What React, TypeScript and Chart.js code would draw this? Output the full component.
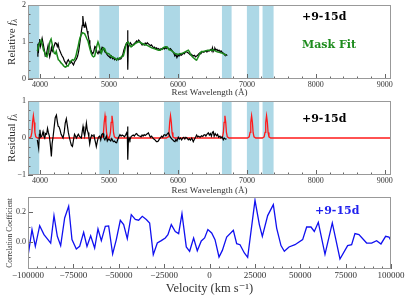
import React, { useEffect, useRef } from 'react';
import { Chart, registerables } from 'chart.js';
Chart.register(...registerables);

// ---------- data ----------
const specWave = [3960,3968,3975,3985,3995,4005,4015,4030,4043,4060,4075,4092,4105,4116,4128,4140,4152,4165,4178,4190,4205,4220,4237,4250,4262,4275,4290,4305,4320,4335,4350,4365,4381,4395,4410,4425,4440,4455,4470,4485,4500,4515,4530,4545,4560,4575,4590,4600,4612,4620,4628,4640,4650,4660,4670,4682,4695,4710,4722,4735,4750,4765,4780,4795,4810,4825,4840,4855,4870,4885,4900,4915,4930,4945,4960,4975,4990,5005,5020,5035,5050,5065,5080,5095,5110,5125,5140,5155,5170,5185,5200,5215,5232,5248,5258,5266,5270,5274,5280,5295,5310,5325,5340,5352,5368,5385,5400,5415,5430,5449,5465,5480,5495,5510,5525,5540,5555,5570,5585,5600,5615,5630,5645,5660,5675,5690,5705,5720,5739,5755,5770,5785,5800,5815,5830,5845,5860,5875,5890,5908,5925,5940,5955,5970,5985,6000,6015,6030,6045,6060,6075,6090,6105,6120,6135,6150,6165,6180,6195,6210,6225,6240,6255,6271,6285,6300,6315,6330,6345,6360,6375,6390,6405,6420,6435,6450,6464,6478,6490,6500,6510,6525,6536,6550,6565,6580,6595,6610,6625,6640,6655,6670,6681,6700,6715];
const specFlux = [0.62,0.95,0.70,0.98,1.08,0.88,0.95,1.10,0.98,0.80,0.62,0.65,0.80,0.90,0.72,0.60,0.70,0.85,0.75,0.80,0.90,0.98,0.96,0.88,0.95,0.82,0.75,0.68,0.62,0.58,0.50,0.45,0.40,0.48,0.52,0.46,0.43,0.48,0.42,0.38,0.46,0.50,0.55,0.62,0.75,0.95,1.15,1.30,1.45,1.70,1.55,1.40,1.42,1.50,1.42,1.30,1.20,1.05,0.92,0.80,0.72,0.68,0.75,0.88,0.85,0.72,0.68,0.75,0.70,0.78,0.86,0.84,0.78,0.72,0.70,0.65,0.62,0.60,0.57,0.62,0.55,0.58,0.52,0.55,0.51,0.56,0.52,0.55,0.54,0.58,0.66,0.78,0.87,0.95,1.00,0.90,1.32,0.25,0.85,0.92,0.98,0.94,0.90,0.93,0.96,0.99,1.03,1.00,1.05,1.01,0.96,0.92,0.95,0.92,0.97,0.94,0.98,0.95,0.93,0.90,0.92,0.88,0.84,0.86,0.82,0.84,0.80,0.82,0.78,0.82,0.80,0.84,0.81,0.85,0.82,0.86,0.83,0.80,0.82,0.78,0.74,0.70,0.62,0.66,0.58,0.64,0.62,0.68,0.64,0.66,0.70,0.68,0.72,0.74,0.72,0.70,0.68,0.65,0.67,0.64,0.62,0.64,0.60,0.62,0.64,0.68,0.70,0.68,0.72,0.74,0.72,0.74,0.76,0.73,0.77,0.75,0.78,0.80,0.76,0.84,0.74,0.80,0.83,0.78,0.80,0.76,0.78,0.74,0.76,0.72,0.70,0.68,0.65,0.66,0.63];

const fitWave = [3960,3975,3990,4005,4019,4035,4050,4068,4085,4100,4115,4130,4145,4160,4175,4190,4205,4220,4235,4250,4265,4280,4295,4310,4325,4340,4357,4372,4390,4406,4420,4437,4454,4470,4485,4502,4520,4535,4551,4565,4580,4599,4615,4632,4647,4665,4680,4696,4712,4728,4744,4760,4776,4792,4808,4824,4840,4855,4872,4889,4905,4920,4937,4952,4970,4985,5000,5017,5034,5050,5070,5090,5111,5130,5150,5170,5190,5208,5225,5245,5262,5280,5300,5320,5340,5360,5380,5400,5420,5440,5460,5480,5500,5520,5540,5560,5580,5600,5620,5640,5660,5680,5700,5720,5740,5760,5780,5800,5820,5836,5855,5870,5890,5910,5930,5950,5970,5990,6010,6030,6050,6070,6090,6110,6130,6150,6165,6180,6200,6220,6240,6260,6271,6285,6300,6320,6340,6360,6380,6400,6420,6440,6460,6480,6500,6520,6540,6560,6580,6600,6620,6640,6660,6681,6700];
const fitFlux = [0.75,0.87,0.95,1.00,1.05,0.90,0.78,0.72,0.62,0.60,0.72,0.88,1.02,1.08,0.95,0.80,0.70,0.68,0.75,0.62,0.52,0.50,0.46,0.42,0.40,0.36,0.33,0.32,0.36,0.35,0.40,0.46,0.50,0.52,0.50,0.54,0.62,0.75,0.87,1.00,1.12,1.20,1.25,1.24,1.22,1.15,1.08,1.02,0.90,0.78,0.68,0.62,0.60,0.62,0.75,0.90,1.00,0.92,0.78,0.70,0.78,0.84,0.82,0.74,0.70,0.69,0.68,0.64,0.60,0.60,0.58,0.56,0.52,0.54,0.57,0.58,0.62,0.62,0.75,0.92,0.98,1.00,0.92,0.87,0.90,0.92,0.96,0.98,1.00,1.00,0.98,0.96,0.94,0.92,0.92,0.90,0.88,0.86,0.84,0.83,0.82,0.80,0.79,0.78,0.78,0.80,0.83,0.86,0.87,0.87,0.83,0.79,0.78,0.76,0.73,0.70,0.68,0.67,0.67,0.68,0.69,0.70,0.72,0.74,0.76,0.78,0.74,0.68,0.62,0.58,0.55,0.52,0.51,0.56,0.62,0.70,0.74,0.74,0.75,0.76,0.77,0.78,0.78,0.78,0.79,0.78,0.76,0.74,0.73,0.72,0.71,0.70,0.68,0.66,0.65];

const resWave = [3960,3970,3980,3990,3998,4010,4025,4043,4055,4068,4080,4095,4108,4120,4135,4150,4164,4175,4190,4205,4220,4237,4250,4262,4275,4290,4305,4320,4333,4350,4365,4381,4395,4410,4425,4440,4455,4470,4485,4500,4515,4527,4540,4555,4570,4585,4599,4612,4623,4635,4647,4660,4672,4684,4696,4708,4720,4735,4750,4768,4782,4795,4808,4816,4830,4845,4865,4880,4895,4913,4925,4940,4961,4975,4990,5010,5025,5040,5062,5080,5095,5111,5125,5140,5159,5175,5190,5208,5225,5240,5256,5266,5270,5274,5280,5292,5304,5320,5335,5352,5368,5385,5401,5415,5430,5449,5465,5480,5495,5510,5525,5546,5560,5570,5585,5600,5618,5635,5650,5667,5680,5695,5715,5730,5745,5763,5780,5795,5811,5825,5840,5860,5875,5890,5908,5925,5940,5957,5970,5985,6005,6020,6035,6053,6070,6085,6100,6115,6130,6150,6165,6180,6200,6222,6240,6255,6271,6285,6300,6320,6343,6360,6375,6391,6405,6420,6440,6455,6470,6485,6500,6512,6525,6540,6560,6575,6590,6609,6625,6640,6657,6670,6690,6705];
const resFlux = [-0.05,-0.05,-0.28,0.10,0.22,0.02,0.05,0.17,0.05,0.00,0.12,0.10,0.26,0.15,0.05,-0.20,-0.50,-0.15,0.05,0.30,0.55,0.62,0.45,0.32,0.30,0.22,0.10,0.05,0.00,0.15,0.40,0.52,0.35,0.15,0.02,-0.10,-0.20,-0.23,-0.05,0.10,0.05,0.00,0.05,0.10,0.05,0.02,0.00,0.18,0.31,0.15,0.05,0.22,0.40,0.22,0.15,0.02,-0.16,0.00,0.08,0.05,0.10,-0.05,-0.15,-0.23,-0.10,0.02,0.05,-0.05,0.10,0.12,0.00,-0.05,0.05,-0.08,-0.03,-0.05,-0.08,-0.02,-0.10,-0.08,-0.12,-0.13,-0.05,0.02,0.09,0.05,0.08,0.06,0.03,0.08,0.14,0.05,0.31,-0.59,-0.12,0.00,-0.05,0.04,0.06,0.08,0.05,0.10,0.12,0.08,0.06,0.05,0.03,0.08,0.05,0.09,0.07,0.10,0.12,0.14,0.08,0.02,0.05,0.00,-0.03,-0.05,-0.08,-0.10,-0.08,-0.03,0.00,0.05,0.02,0.08,0.09,0.06,0.10,0.14,0.08,0.02,-0.02,-0.05,-0.08,-0.10,-0.04,-0.08,0.02,-0.03,0.00,-0.05,0.00,0.02,-0.03,0.02,0.00,-0.05,-0.02,-0.06,0.00,-0.10,-0.03,0.02,0.08,0.03,0.05,0.02,0.06,0.04,0.08,0.09,0.05,0.10,0.14,0.08,0.12,0.05,0.15,0.17,0.05,0.12,0.06,0.10,0.02,0.05,0.00,0.03,-0.05,0.00,-0.03,-0.02];

// emission-line model in the residual panel: line centres and the sampled line profile
const lineCentres = [3903, 4942, 5043, 5892, 6681, 7068, 7285];
const profileOffset = [-60, -35, -22, -12, 0, 12, 22, 35, 60];
const profileValue = [0, 0.03, 0.15, 0.42, 0.6, 0.42, 0.15, 0.03, 0];
const modelRange = [3825, 9090];

const velocity = [-100000,-97800,-95960,-93570,-91190,-89000,-87500,-85680,-83840,-82000,-79800,-77600,-75770,-73380,-71540,-69340,-67500,-65480,-63280,-61440,-59600,-57400,-55570,-53360,-51350,-49140,-47300,-45300,-43100,-40880,-39040,-37030,-34820,-32980,-30970,-28760,-26560,-24360,-22900,-21050,-18850,-17000,-15170,-12790,-10950,-8750,-6730,-4530,-2690,-900,1200,3040,5240,7080,9460,13140,14970,16810,19200,21030,25070,27460,29110,32050,35170,37000,39390,41230,43800,47100,51320,53530,55910,57750,59950,63630,67660,71890,76110,78310,80150,82350,86570,89330,92080,94470,97040,98880,100000];
const correlation = [-0.095,0.083,-0.029,0.109,0.049,0.016,-0.007,0.176,0.038,-0.024,0.16,0.238,0.016,-0.047,-0.029,0.065,-0.029,0.042,-0.04,0.087,0.009,0.105,0.107,-0.08,0.016,0.145,0.116,0.022,0.182,0.15,0.145,0.171,0.15,0.127,-0.084,-0.007,0.009,0.027,0.049,0.116,0.07,0.056,0.189,-0.033,-0.062,0.027,-0.058,0.007,0.027,0.083,0.06,0.016,-0.1,-0.056,0.033,0.078,-0.011,-0.018,-0.073,-0.102,0.278,0.116,0.038,0.176,0.249,0.093,-0.024,-0.062,-0.033,-0.018,0.016,0.1,0.1,0.07,0.131,-0.082,0.127,-0.113,-0.024,-0.018,0.056,0.049,-0.007,-0.007,0.009,-0.013,0.038,0.033,0.009];

const maskBands: [number, number][] = [[3790, 3988], [4860, 5145], [5797, 6029], [6638, 6778], [7000, 7178], [7227, 7387]];

const waveTicks = [4000, 5000, 6000, 7000, 8000, 9000];
const relTicks = [0, 1, 2];
const resTicks = [-1, 0, 1];
const velTicks = [-100000, -75000, -50000, -25000, 0, 25000, 50000, 75000, 100000];
const corrTicks = [0, 0.2];

const phaseLabel = '+9-15d';

// ---------- helpers ----------
const SERIF = "'Liberation Serif', 'DejaVu Serif', serif";
const BOLD = "'DejaVu Serif', serif";
const TXT = '#333';

const pts = (xs: number[], ys: number[]) => xs.map((x, i) => ({ x, y: ys[i] }));
const minus = (v: number) => (v < 0 ? '\u2212' + Math.abs(v) : String(v));

function modelPoints() {
  const out: { x: number; y: number }[] = [{ x: modelRange[0], y: 0 }];
  lineCentres.forEach((c) => profileOffset.forEach((o, i) => out.push({ x: c + o, y: profileValue[i] })));
  out.push({ x: modelRange[1], y: 0 });
  return out;
}

type Part = { t: string; f: string; dy?: number };
type Txt = { t: string; x: number; y: number; font: string; color: string };
type Deco = {
  bands?: [number, number][];
  xMinor: number; xMajor: number; yMinor: number; yMajor: number;
  yTitle: Part[]; yTitleX: number;
  texts: Txt[];
};

function decor(o: Deco) {
  return {
    id: 'decor',
    beforeDatasetsDraw(chart: any) {
      const { ctx, chartArea: a, scales } = chart;
      if (!o.bands) return;
      ctx.save();
      ctx.beginPath();
      ctx.rect(a.left, a.top, a.right - a.left, a.bottom - a.top);
      ctx.clip();
      ctx.fillStyle = '#add8e6';
      for (const [b0, b1] of o.bands) {
        const p0 = scales.x.getPixelForValue(b0);
        const p1 = scales.x.getPixelForValue(b1);
        ctx.fillRect(p0, a.top, p1 - p0, a.bottom - a.top);
      }
      ctx.restore();
    },
    afterDatasetsDraw(chart: any) {
      const { ctx, chartArea: a, scales } = chart;
      ctx.save();
      ctx.strokeStyle = '#666';
      ctx.lineWidth = 1;
      const isMaj = (v: number, m: number) => Math.abs(v / m - Math.round(v / m)) < 1e-6;
      const xs = scales.x;
      for (let v = Math.ceil(xs.min / o.xMinor) * o.xMinor; v <= xs.max + 1e-9; v += o.xMinor) {
        const p = Math.round(xs.getPixelForValue(v)) + 0.5;
        const len = isMaj(v, o.xMajor) ? 5 : 2.5;
        ctx.beginPath();
        ctx.moveTo(p, a.bottom);
        ctx.lineTo(p, a.bottom - len);
        ctx.stroke();
      }
      const ys = scales.y;
      for (let k = Math.ceil(ys.min / o.yMinor - 1e-9); k * o.yMinor <= ys.max + 1e-9; k++) {
        const v = k * o.yMinor;
        const p = Math.round(ys.getPixelForValue(v)) + 0.5;
        const len = isMaj(v, o.yMajor) ? 5 : 2.5;
        ctx.beginPath();
        ctx.moveTo(a.left, p);
        ctx.lineTo(a.left + len, p);
        ctx.stroke();
      }
      ctx.strokeStyle = '#999';
      ctx.strokeRect(Math.round(a.left) + 0.5, Math.round(a.top) + 0.5, Math.round(a.right - a.left) - 1, Math.round(a.bottom - a.top) - 1);
      ctx.restore();
    },
    afterDraw(chart: any) {
      const { ctx, chartArea: a } = chart;
      ctx.save();
      ctx.translate(o.yTitleX, (a.top + a.bottom) / 2);
      ctx.rotate(-Math.PI / 2);
      let total = 0;
      for (const p of o.yTitle) { ctx.font = p.f; total += ctx.measureText(p.t).width; }
      let cx = -total / 2;
      ctx.fillStyle = TXT;
      ctx.textBaseline = 'middle';
      ctx.textAlign = 'left';
      for (const p of o.yTitle) {
        ctx.font = p.f;
        ctx.fillText(p.t, cx, p.dy || 0);
        cx += ctx.measureText(p.t).width;
      }
      ctx.restore();
      ctx.save();
      ctx.textBaseline = 'middle';
      ctx.textAlign = 'left';
      for (const t of o.texts) {
        ctx.font = t.font;
        ctx.fillStyle = t.color;
        ctx.fillText(t.t, t.x, t.y);
      }
      ctx.restore();
    },
  };
}

function scaleX(min: number, max: number, ticks: number[], fmt: (v: number) => string, axisH: number, title: string, titleSize: number, titlePad: number, tickSize: number, tickPad: number) {
  return {
    type: 'linear', min, max,
    grid: { display: false, drawTicks: false },
    border: { display: false },
    afterBuildTicks: (s: any) => { s.ticks = ticks.map((value) => ({ value })); },
    afterFit: (s: any) => { s.height = axisH; s.paddingLeft = 0; s.paddingRight = 0; },
    ticks: { autoSkip: false, maxRotation: 0, minRotation: 0, padding: tickPad, color: TXT, font: { family: SERIF, size: tickSize }, callback: (v: any) => fmt(Number(v)) },
    title: { display: true, text: title, color: TXT, font: { family: SERIF, size: titleSize, lineHeight: 1 }, padding: { top: 0, bottom: titlePad } },
  };
}

function scaleY(min: number, max: number, ticks: number[], fmt: (v: number) => string, tickSize: number) {
  return {
    type: 'linear', min, max,
    grid: { display: false, drawTicks: false },
    border: { display: false },
    afterBuildTicks: (s: any) => { s.ticks = ticks.map((value) => ({ value })); },
    afterFit: (s: any) => { s.width = 28; s.paddingTop = 0; s.paddingBottom = 0; },
    ticks: { padding: 2, color: TXT, font: { family: SERIF, size: tickSize }, callback: (v: any) => fmt(Number(v)) },
  };
}

const line = (data: any, color: string, width: number) => ({
  data, borderColor: color, backgroundColor: color, borderWidth: width, pointRadius: 0, tension: 0, fill: false,
});

const baseOpts = (padTop: number) => ({
  responsive: false,
  maintainAspectRatio: false,
  animation: false,
  devicePixelRatio: 1,
  layout: { padding: { left: 0, right: 16, top: padTop, bottom: 0 } },
  plugins: { legend: { display: false }, tooltip: { enabled: false } },
  events: [],
});

const sub = (label: string): Part[] => [
  { t: label + ' ', f: `11px ${SERIF}` },
  { t: 'f', f: `italic 11px ${SERIF}` },
  { t: '\u03bb', f: `italic 8px ${SERIF}`, dy: 3 },
];

export default function App() {
  const r1 = useRef<HTMLCanvasElement>(null);
  const r2 = useRef<HTMLCanvasElement>(null);
  const r3 = useRef<HTMLCanvasElement>(null);

  useEffect(() => {
    const c1 = new Chart(r1.current as HTMLCanvasElement, {
      type: 'line',
      data: { datasets: [line(pts(fitWave, fitFlux), '#1a8a1a', 1.5), line(pts(specWave, specFlux), '#000', 1.2)] } as any,
      options: {
        ...baseOpts(5),
        scales: {
          x: scaleX(3825, 9090, waveTicks, (v) => String(v), 18, 'Rest Wavelength (\u00c5)', 9, 0, 8, 1),
          y: scaleY(0, 2, relTicks, (v) => String(v), 8),
        },
      } as any,
      plugins: [decor({
        bands: maskBands, xMinor: 200, xMajor: 1000, yMinor: 0.25, yMajor: 1,
        yTitle: sub('Relative'), yTitleX: 12,
        texts: [
          { t: phaseLabel, x: 302, y: 17, font: `bold 11px ${BOLD}`, color: '#000' },
          { t: 'Mask Fit', x: 302, y: 45.5, font: `bold 11px ${BOLD}`, color: '#1e8c1e' },
        ],
      })] as any,
    });

    const c2 = new Chart(r2.current as HTMLCanvasElement, {
      type: 'line',
      data: { datasets: [line(pts(resWave, resFlux), '#000', 1.2), line(modelPoints(), '#ff1a1a', 1.3)] } as any,
      options: {
        ...baseOpts(4),
        scales: {
          x: scaleX(3825, 9090, waveTicks, (v) => String(v), 22, 'Rest Wavelength (\u00c5)', 9, 1.5, 8, 1),
          y: scaleY(-1, 1, resTicks, minus, 8),
        },
      } as any,
      plugins: [decor({
        bands: maskBands, xMinor: 200, xMajor: 1000, yMinor: 0.25, yMajor: 1,
        yTitle: sub('Residual'), yTitleX: 12,
        texts: [{ t: phaseLabel, x: 302, y: 22.5, font: `bold 11px ${BOLD}`, color: '#000' }],
      })] as any,
    });

    const c3 = new Chart(r3.current as HTMLCanvasElement, {
      type: 'line',
      data: { datasets: [line(pts(velocity, correlation), '#1010f0', 1.3)] } as any,
      options: {
        ...baseOpts(1),
        scales: {
          x: scaleX(-100000, 100000, velTicks, minus, 29, 'Velocity (km s\u207b\u00b9)', 12.5, 3.5, 9, 1.5),
          y: scaleY(-0.18, 0.3, corrTicks, (v) => v.toFixed(1), 8),
        },
      } as any,
      plugins: [decor({
        xMinor: 5000, xMajor: 25000, yMinor: 0.1, yMajor: 0.2,
        yTitle: [{ t: 'Correlation Coefficient', f: `7.5px ${SERIF}` }], yTitleX: 10.5,
        texts: [{ t: phaseLabel, x: 315, y: 15, font: `bold 11px ${BOLD}`, color: '#2020ee' }],
      })] as any,
    });

    return () => { c1.destroy(); c2.destroy(); c3.destroy(); };
  }, []);

  const cs = (top: number, h: number): React.CSSProperties => ({ position: 'absolute', left: 0, top, width: 407, height: h });
  return (
    <div style={{ position: 'absolute', left: 0, top: 0, width: 407, height: 298, background: '#fff', overflow: 'hidden' }}>
      <canvas ref={r1} width={407} height={97} style={cs(0, 97)} />
      <canvas ref={r2} width={407} height={100} style={cs(97, 100)} />
      <canvas ref={r3} width={407} height={102} style={cs(196, 102)} />
    </div>
  );
}
